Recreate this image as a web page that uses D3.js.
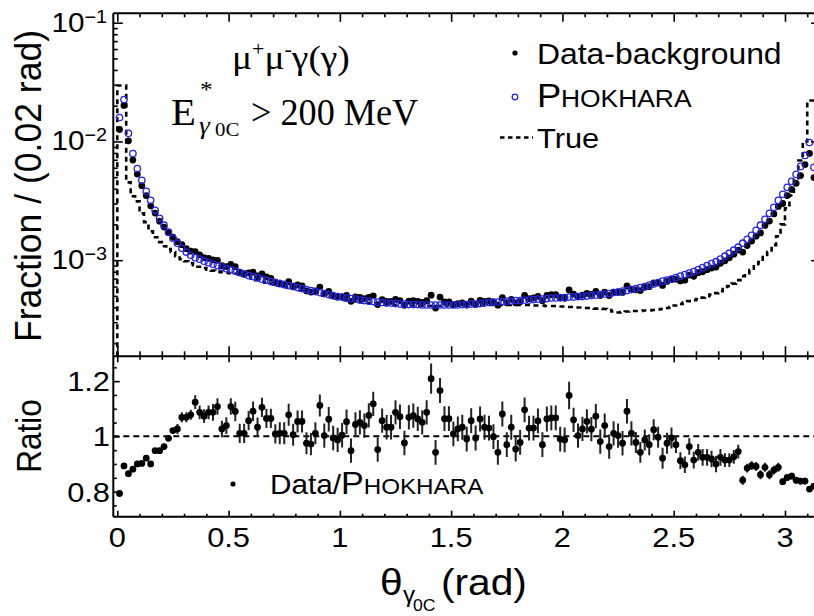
<!DOCTYPE html>
<html><head><meta charset="utf-8">
<script src="https://cdn.jsdelivr.net/npm/d3@7/dist/d3.min.js"></script>
<style>html,body{margin:0;padding:0;background:#fff;} svg{display:block;}</style>
</head><body>
<svg id="chart" width="814" height="616"></svg>
<script>
// ================= DATA =================
const binWidth = 0.02;            // rad
const nBins = 157;                // 0 .. 3.14 rad
const binCenters = d3.range(nBins).map(i => +(0.01 + binWidth * i).toFixed(2));

// PHOKHARA MC (open blue circles), fraction per 0.02 rad
const phokhara = [
 0.0159, 0.0225, 0.0117, 0.0079, 0.0059, 0.0047, 0.0038, 0.00319, 0.00263, 0.00225,
 0.00197, 0.00172, 0.00153, 0.00139, 0.00126, 0.00117, 0.00110, 0.00105, 0.00102, 0.00098,
 0.000953, 0.000926, 0.000900, 0.000873, 0.000848, 0.000832, 0.000808, 0.000785, 0.000763, 0.000741,
 0.000727, 0.000713, 0.000692, 0.000679, 0.000660, 0.000647, 0.000634, 0.000622, 0.000610, 0.000599,
 0.000588, 0.000576, 0.000565, 0.000555, 0.000544, 0.000533, 0.000523, 0.000513, 0.000503, 0.000494,
 0.000489, 0.000480, 0.000475, 0.000470, 0.000461, 0.000457, 0.000452, 0.000448, 0.000444, 0.000440,
 0.000435, 0.000435, 0.000431, 0.000427, 0.000427, 0.000423, 0.000423, 0.000423, 0.000419, 0.000419,
 0.000419, 0.000419, 0.000419, 0.000419, 0.000419, 0.000419, 0.000419, 0.000423, 0.000423, 0.000427,
 0.000427, 0.000431, 0.000435, 0.000440, 0.000444, 0.000444, 0.000448, 0.000452, 0.000452, 0.000457,
 0.000457, 0.000461, 0.000461, 0.000466, 0.000470, 0.000470, 0.000475, 0.000480, 0.000480, 0.000484,
 0.000484, 0.000489, 0.000489, 0.000494, 0.000494, 0.000498, 0.000503, 0.000508, 0.000513, 0.000518,
 0.000523, 0.000533, 0.000538, 0.000549, 0.000555, 0.000565, 0.000576, 0.000588, 0.000599, 0.000616,
 0.000629, 0.000647, 0.000666, 0.000679, 0.000692, 0.000713, 0.000734, 0.000756, 0.000778, 0.000800,
 0.000832, 0.000865, 0.000900, 0.000935, 0.000971, 0.00102, 0.00108, 0.001145, 0.001213, 0.001286,
 0.00139, 0.00150, 0.00162, 0.001787, 0.00197, 0.00221, 0.00248, 0.00279, 0.00319, 0.00359,
 0.00411, 0.00461, 0.00528, 0.00616, 0.00762, 0.0098, 0.00605
];

// Data - background (black dots)
const dataBkg = [
 0.01261, 0.02009, 0.01012, 0.00696, 0.00531, 0.00424, 0.00350, 0.00287, 0.00249, 0.00213,
 0.00190, 0.00171, 0.00156, 0.00143, 0.00135, 0.00125, 0.00119, 0.00118, 0.00111, 0.00105,
 0.001036, 0.001007, 0.000997, 0.000897, 0.000881, 0.000922, 0.000881, 0.000794, 0.000771, 0.000783,
 0.000793, 0.000737, 0.000765, 0.000723, 0.000703, 0.000653, 0.000641, 0.000629, 0.000658, 0.000603,
 0.000620, 0.000607, 0.000551, 0.000539, 0.000550, 0.000593, 0.000525, 0.000545, 0.000500, 0.000488,
 0.000491, 0.000505, 0.000450, 0.000490, 0.000485, 0.000475, 0.000486, 0.000501, 0.000423, 0.000465,
 0.000449, 0.000449, 0.000468, 0.000457, 0.000417, 0.000452, 0.000455, 0.000450, 0.000440, 0.000455,
 0.000507, 0.000395, 0.000489, 0.000446, 0.000446, 0.000423, 0.000430, 0.000437, 0.000419, 0.000451,
 0.000424, 0.000458, 0.000449, 0.000453, 0.000444, 0.000418, 0.000484, 0.000438, 0.000467, 0.000436,
 0.000447, 0.000505, 0.000475, 0.000480, 0.000496, 0.000456, 0.000505, 0.000512, 0.000512, 0.000479,
 0.000478, 0.000561, 0.000518, 0.000495, 0.000507, 0.000525, 0.000516, 0.000545, 0.000503, 0.000538,
 0.000504, 0.000539, 0.000540, 0.000535, 0.000606, 0.000571, 0.000563, 0.000554, 0.000591, 0.000598,
 0.000644, 0.000645, 0.000613, 0.000662, 0.000688, 0.000692, 0.000669, 0.000678, 0.000749, 0.000731,
 0.000784, 0.000799, 0.000832, 0.000858, 0.000874, 0.000942, 0.000987, 0.001047, 0.001123, 0.001215,
 0.001169, 0.001328, 0.001448, 0.001592, 0.001696, 0.001962, 0.002135, 0.002450, 0.002833, 0.003001,
 0.003498, 0.003946, 0.004440, 0.005162, 0.006386, 0.007928, 0.004961
];

// True (generator level) histogram, dashed
const trueHist = [
 0.0296, 0.0296, 0.00452, 0.00345, 0.00313, 0.00248, 0.00209, 0.00175, 0.00156, 0.00142,
 0.00131, 0.00124, 0.00117, 0.00108, 0.00102, 0.00098, 0.000944, 0.000908, 0.000880, 0.000857,
 0.000832, 0.000816, 0.000800, 0.000793, 0.000785, 0.000778, 0.000770, 0.000763, 0.000741, 0.000720,
 0.000699, 0.000679, 0.000660, 0.000647, 0.000634, 0.000622, 0.000610, 0.000599, 0.000588, 0.000576,
 0.000565, 0.000555, 0.000544, 0.000533, 0.000523, 0.000513, 0.000503, 0.000494, 0.000484, 0.000475,
 0.000470, 0.000461, 0.000457, 0.000452, 0.000444, 0.000440, 0.000435, 0.000431, 0.000427, 0.000427,
 0.000423, 0.000423, 0.000419, 0.000419, 0.000415, 0.000415, 0.000415, 0.000411, 0.000411, 0.000411,
 0.000411, 0.000411, 0.000411, 0.000415, 0.000415, 0.000415, 0.000415, 0.000415, 0.000419, 0.000419,
 0.000419, 0.000419, 0.000419, 0.000419, 0.000419, 0.000419, 0.000419, 0.000419, 0.000419, 0.000419,
 0.000419, 0.000419, 0.000419, 0.000415, 0.000415, 0.000415, 0.000411, 0.000411, 0.000411, 0.000407,
 0.000407, 0.000403, 0.000403, 0.000399, 0.000399, 0.000395, 0.000395, 0.000391, 0.000391, 0.000388,
 0.000380, 0.000369, 0.000362, 0.000366, 0.000369, 0.000373, 0.000373, 0.000373, 0.000377, 0.000377,
 0.000380, 0.000384, 0.000388, 0.000395, 0.000403, 0.000415, 0.000427, 0.000440, 0.000452, 0.000461,
 0.000470, 0.000484, 0.000498, 0.000513, 0.000528, 0.000549, 0.000570, 0.000605, 0.000634, 0.000679,
 0.000734, 0.000778, 0.000824, 0.000890, 0.000962, 0.00106, 0.00117, 0.00134, 0.00159, 0.00200,
 0.00274, 0.00350, 0.00470, 0.00690, 0.0100, 0.0221, 0.0221
];

// Data / PHOKHARA ratio and its uncertainty
const ratio = [
 0.793, 0.893, 0.865, 0.881, 0.900, 0.902, 0.921, 0.900, 0.948, 0.948,
 0.963, 0.993, 1.021, 1.027, 1.069, 1.069, 1.078, 1.124, 1.087, 1.073,
 1.087, 1.087, 1.108, 1.027, 1.039, 1.108, 1.090, 1.011, 1.011, 1.057,
 1.091, 1.033, 1.105, 1.065, 1.065, 1.009, 1.011, 1.011, 1.078, 1.006,
 1.054, 1.054, 0.975, 0.972, 1.011, 1.112, 1.003, 1.062, 0.994, 0.987,
 1.004, 1.053, 0.948, 1.043, 1.051, 1.039, 1.076, 1.118, 0.952, 1.057,
 1.033, 1.033, 1.087, 1.071, 0.976, 1.069, 1.075, 1.063, 1.051, 1.087,
 1.209, 0.942, 1.166, 1.064, 1.064, 1.009, 1.027, 1.033, 0.990, 1.057,
 0.994, 1.063, 1.033, 1.030, 0.999, 0.942, 1.081, 0.970, 1.033, 0.954,
 0.978, 1.096, 1.030, 1.030, 1.056, 0.970, 1.063, 1.067, 1.067, 0.990,
 0.987, 1.148, 1.060, 1.003, 1.027, 1.054, 1.026, 1.073, 0.981, 1.039,
 0.963, 1.011, 1.003, 0.975, 1.091, 1.011, 0.978, 0.942, 0.987, 0.970,
 1.024, 0.997, 0.921, 0.975, 0.994, 0.970, 0.912, 0.897, 0.963, 0.914,
 0.942, 0.924, 0.924, 0.918, 0.900, 0.924, 0.914, 0.914, 0.926, 0.945,
 0.841, 0.885, 0.894, 0.891, 0.861, 0.888, 0.861, 0.878, 0.888, 0.836,
 0.851, 0.856, 0.841, 0.838, 0.838, 0.809, 0.820
];
const ratioErr = [
 0.006, 0.006, 0.006, 0.006, 0.006, 0.006, 0.006, 0.010, 0.010, 0.010,
 0.010, 0.010, 0.010, 0.018, 0.018, 0.018, 0.018, 0.025, 0.025, 0.025,
 0.025, 0.030, 0.030, 0.030, 0.030, 0.030, 0.035, 0.035, 0.035, 0.035,
 0.035, 0.035, 0.035, 0.035, 0.035, 0.035, 0.040, 0.040, 0.040, 0.040,
 0.040, 0.040, 0.040, 0.040, 0.040, 0.040, 0.044, 0.044, 0.044, 0.044,
 0.044, 0.044, 0.044, 0.044, 0.044, 0.044, 0.044, 0.044, 0.044, 0.044,
 0.044, 0.044, 0.044, 0.044, 0.044, 0.044, 0.044, 0.044, 0.044, 0.044,
 0.055, 0.045, 0.045, 0.045, 0.045, 0.045, 0.045, 0.045, 0.045, 0.045,
 0.045, 0.045, 0.045, 0.045, 0.045, 0.045, 0.045, 0.045, 0.045, 0.045,
 0.045, 0.045, 0.045, 0.045, 0.045, 0.045, 0.045, 0.045, 0.045, 0.045,
 0.045, 0.050, 0.044, 0.044, 0.044, 0.044, 0.044, 0.044, 0.044, 0.044,
 0.044, 0.044, 0.044, 0.044, 0.044, 0.044, 0.038, 0.038, 0.038, 0.038,
 0.038, 0.038, 0.038, 0.038, 0.038, 0.030, 0.030, 0.030, 0.030, 0.030,
 0.030, 0.030, 0.030, 0.030, 0.030, 0.030, 0.025, 0.025, 0.025, 0.025,
 0.016, 0.016, 0.016, 0.016, 0.016, 0.016, 0.016, 0.016, 0.016, 0.012,
 0.012, 0.012, 0.012, 0.012, 0.012, 0.008, 0.008
];

// axis ticks / labels
const xMajorTicks = [0, 0.5, 1, 1.5, 2, 2.5, 3];
const xTickLabels = ["0", "0.5", "1", "1.5", "2", "2.5", "3"];
const logMajorTicks = [1e-3, 1e-2, 1e-1];
const logTickExponents = ["\u22123", "\u22122", "\u22121"];
const ratioMajorTicks = [0.8, 1.0, 1.2];
const ratioTickLabels = ["0.8", "1", "1.2"];

// ================= LAYOUT =================
const svg = d3.select("#chart");
svg.append("rect").attr("width", 814).attr("height", 616).attr("fill", "#fff");
const L = 113.3, R = 820.6, T = 13.3, M = 356.3, B = 516.7;
const SANS = "'Liberation Sans', Arial, Helvetica, sans-serif";
const SERIF = "'Liberation Serif', 'Times New Roman', serif";
const BLUE = "#2525dc";

const x = d3.scaleLinear().domain([-0.018, 3.16]).range([L, R]);
const yTop = d3.scaleLog().domain([1.55e-4, 0.12]).range([M, T]);
const yRat = d3.scaleLinear().domain([0.709, 1.29]).range([B, M]);

const defs = svg.append("defs");
defs.append("clipPath").attr("id", "clipTop").append("rect")
  .attr("x", L).attr("y", T).attr("width", R - L).attr("height", M - T);
defs.append("clipPath").attr("id", "clipBot").append("rect")
  .attr("x", L).attr("y", M).attr("width", R - L).attr("height", B - M);

const gTop = svg.append("g").attr("clip-path", "url(#clipTop)");
const gBot = svg.append("g").attr("clip-path", "url(#clipBot)");

// ---- True histogram (dashed steps) ----
const base = yTop.domain()[0];
const steps = [[binCenters[0] - binWidth / 2, base]];
binCenters.forEach((c, i) => {
  steps.push([c - binWidth / 2, trueHist[i]]);
  steps.push([c + binWidth / 2, trueHist[i]]);
});
steps.push([binCenters[nBins - 1] + binWidth / 2, base]);
gTop.append("path")
  .attr("d", d3.line().x(d => x(d[0])).y(d => yTop(d[1]))(steps))
  .attr("fill", "none").attr("stroke", "#000").attr("stroke-width", 2.6)
  .attr("stroke-dasharray", "5,4");

// ---- Data - background ----
gTop.selectAll("circle.data").data(dataBkg).join("circle")
  .attr("class", "data")
  .attr("cx", (d, i) => x(binCenters[i])).attr("cy", d => yTop(d))
  .attr("r", 3.4).attr("fill", "#000");

// ---- PHOKHARA ----
gTop.selectAll("circle.pho").data(phokhara).join("circle")
  .attr("class", "pho")
  .attr("cx", (d, i) => x(binCenters[i])).attr("cy", d => yTop(d))
  .attr("r", 3.2).attr("fill", "none").attr("stroke", BLUE).attr("stroke-width", 1.3);

// ---- Ratio panel ----
gBot.append("line")
  .attr("x1", L).attr("x2", R).attr("y1", yRat(1)).attr("y2", yRat(1))
  .attr("stroke", "#000").attr("stroke-width", 2).attr("stroke-dasharray", "6,4");
gBot.selectAll("line.err").data(ratio).join("line")
  .attr("class", "err")
  .attr("x1", (d, i) => x(binCenters[i])).attr("x2", (d, i) => x(binCenters[i]))
  .attr("y1", (d, i) => yRat(d - ratioErr[i])).attr("y2", (d, i) => yRat(d + ratioErr[i]))
  .attr("stroke", "#222").attr("stroke-width", 2);
gBot.selectAll("circle.rat").data(ratio).join("circle")
  .attr("class", "rat")
  .attr("cx", (d, i) => x(binCenters[i])).attr("cy", d => yRat(d))
  .attr("r", 3.4).attr("fill", "#000");

// ================= AXES / FRAME =================
function ticks(axis, transform, size) {
  const g = svg.append("g").attr("transform", transform)
    .call(axis.tickSize(size).tickFormat(""));
  g.select(".domain").remove();
  g.selectAll(".tick line").attr("stroke", "#000").attr("stroke-width", 1.6);
  g.selectAll(".tick text").remove();
}
const xMinor = d3.range(32).map(i => i / 10).filter(v => Math.round(v * 10) % 5 !== 0);
ticks(d3.axisBottom(x).tickValues(xMajorTicks), `translate(0,${T})`, 8.5);
ticks(d3.axisBottom(x).tickValues(xMinor), `translate(0,${T})`, 4);
ticks(d3.axisTop(x).tickValues(xMajorTicks), `translate(0,${M})`, 10);
ticks(d3.axisTop(x).tickValues(xMinor), `translate(0,${M})`, 5);
ticks(d3.axisBottom(x).tickValues(xMajorTicks), `translate(0,${M})`, 6);
ticks(d3.axisBottom(x).tickValues(xMinor), `translate(0,${M})`, 3.5);
ticks(d3.axisTop(x).tickValues(xMajorTicks), `translate(0,${B})`, 6);
ticks(d3.axisTop(x).tickValues(xMinor), `translate(0,${B})`, 3);

const logMinor = [];
[1e-4, 1e-3, 1e-2].forEach(dec => d3.range(2, 10).forEach(k => {
  const v = k * dec; if (v > yTop.domain()[0] && v < yTop.domain()[1]) logMinor.push(v);
}));
ticks(d3.axisRight(yTop).tickValues(logMajorTicks), `translate(${L},0)`, 9.5);
ticks(d3.axisRight(yTop).tickValues(logMinor), `translate(${L},0)`, 4.5);
ticks(d3.axisLeft(yTop).tickValues(logMajorTicks), `translate(${R},0)`, 9.5);
ticks(d3.axisLeft(yTop).tickValues(logMinor), `translate(${R},0)`, 4.5);
const ratMinor = [0.75, 0.85, 0.9, 0.95, 1.05, 1.1, 1.15, 1.25];
ticks(d3.axisRight(yRat).tickValues(ratioMajorTicks), `translate(${L},0)`, 6.5);
ticks(d3.axisRight(yRat).tickValues(ratMinor), `translate(${L},0)`, 3.5);
ticks(d3.axisLeft(yRat).tickValues(ratioMajorTicks), `translate(${R},0)`, 6.5);
ticks(d3.axisLeft(yRat).tickValues(ratMinor), `translate(${R},0)`, 3.5);

const frame = svg.append("g").attr("stroke", "#000").attr("stroke-width", 2).attr("fill", "none");
frame.append("line").attr("x1", L).attr("x2", L).attr("y1", T).attr("y2", B);
frame.append("line").attr("x1", R).attr("x2", R).attr("y1", T).attr("y2", B);
frame.append("line").attr("x1", L).attr("x2", R).attr("y1", T).attr("y2", T);
frame.append("line").attr("x1", L).attr("x2", R).attr("y1", M).attr("y2", M);
frame.append("line").attr("x1", L).attr("x2", R).attr("y1", B).attr("y2", B);

// ================= TEXT =================
function txt(x0, y0, size, anchor, family, extra) {
  return svg.append("g").attr("transform", `translate(${x0},${y0}) scale(1.1,1)${extra || ""}`)
    .append("text").attr("font-family", family || SANS).attr("font-size", size)
    .attr("text-anchor", anchor || "start").attr("fill", "#000");
}

xMajorTicks.forEach((v, i) => txt(x(v), 547, 28, "middle").text(xTickLabels[i]));
ratioMajorTicks.forEach((v, i) => txt(110, yRat(v) + 10, 28, "end").text(ratioTickLabels[i]));
logMajorTicks.forEach((v, i) => {
  const t = txt(107, yTop(v) + 9, 27, "end");
  t.append("tspan").text("10");
  t.append("tspan").attr("font-size", 18).attr("dy", -9).text(logTickExponents[i]);
});

// axis titles
txt(41, 186, 33, "middle", SANS, " rotate(-90)").attr("textLength", 312)
  .attr("lengthAdjust", "spacingAndGlyphs").text("Fraction / (0.02 rad)");
txt(41, 436, 31.5, "middle", SANS, " rotate(-90)").text("Ratio");

// x title
txt(380, 595, 37, "start", SANS).text("\u03b8");
txt(403, 602, 22, "start", SANS).text("\u03b3");
txt(413, 611, 16, "start", SANS).text("0C");
txt(441, 595, 37, "start", SANS).text("(rad)");

// physics annotations
{
  const t = txt(232, 69, 34, "start", SERIF);
  t.append("tspan").text("\u03bc");
  t.append("tspan").attr("font-size", 20).attr("dy", -13).text("+");
  t.append("tspan").attr("dy", 13).text("\u03bc");
  t.append("tspan").attr("font-size", 20).attr("dy", -13).text("-");
  t.append("tspan").attr("dy", 13).text("\u03b3(\u03b3)");
}
txt(171, 125, 37, "start", SERIF).text("E");
txt(200, 97, 23, "start", SERIF).text("*");
txt(199, 134, 25, "start", SERIF).attr("font-style", "italic").text("\u03b3");
txt(215, 136, 19, "start", SERIF).text("0C");
txt(251, 125, 37, "start", SERIF).attr("textLength", 152)
  .attr("lengthAdjust", "spacingAndGlyphs").text("> 200 MeV");

// legend (top panel)
svg.append("circle").attr("cx", 515).attr("cy", 53).attr("r", 2.6).attr("fill", "#000");
txt(537, 64, 29, "start").text("Data-background");
svg.append("circle").attr("cx", 515).attr("cy", 97).attr("r", 2.8)
  .attr("fill", "none").attr("stroke", BLUE).attr("stroke-width", 1.3);
txt(537, 107, 33, "start").text("P");
txt(561, 107, 24, "start").text("HOKHARA");
svg.append("line").attr("x1", 500).attr("x2", 533).attr("y1", 137.5).attr("y2", 137.5)
  .attr("stroke", "#000").attr("stroke-width", 2.4).attr("stroke-dasharray", "4.5,3.5");
txt(537, 148, 28, "start").text("True");

// legend (ratio panel)
svg.append("circle").attr("cx", 233).attr("cy", 484).attr("r", 2.6).attr("fill", "#000");
const rl = txt(270, 494, 27, "start");
rl.append("tspan").text("Data/");
rl.append("tspan").attr("font-size", 31).text("P");
rl.append("tspan").attr("font-size", 22).text("HOKHARA");
</script>
</body></html>
